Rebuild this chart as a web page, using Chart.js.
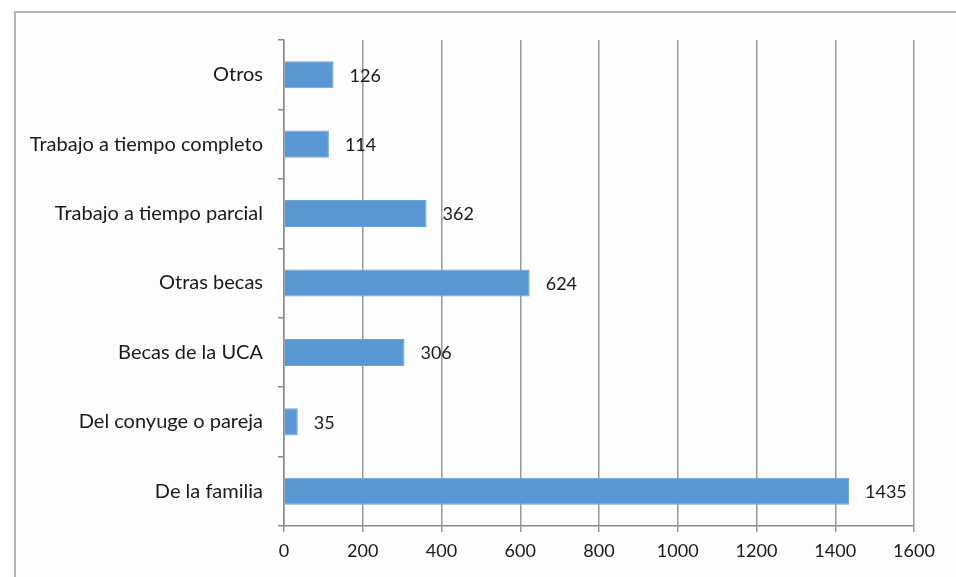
<!DOCTYPE html>
<html>
<head>
<meta charset="utf-8">
<script src="https://cdn.jsdelivr.net/npm/chart.js@4"></script>
<style>
  html, body { margin: 0; padding: 0; background: #fff; overflow: hidden; }
  #frame { position: absolute; left: 14px; top: 11px; width: 960px; height: 580px; border: 2px solid #b4b4b4; background: #fdfdfd; }
  #wrap { position: absolute; left: 0; top: 0; width: 956px; height: 577px; }
</style>
</head>
<body>
<div id="frame"></div>
<div id="wrap"><canvas id="dia"></canvas></div>
<script>
// categories top -> bottom
var categories = ['Otros', 'Trabajo a tiempo completo', 'Trabajo a tiempo parcial', 'Otras becas', 'Becas de la UCA', 'Del conyuge o pareja', 'De la familia'];
var values = [126, 114, 362, 624, 306, 35, 1435];
var xTicks = [0, 200, 400, 600, 800, 1000, 1200, 1400, 1600];

var FONT = 'Lato, "Open Sans", sans-serif';

//--------------- value labels next to bars ---------------//
var valueLabels = {
  id: 'valueLabels',
  afterDatasetsDraw: function(chart) {
    var ctx = chart.ctx;
    var meta = chart.getDatasetMeta(0);
    ctx.save();
    ctx.font = '18px ' + FONT;
    ctx.fillStyle = '#1a1a1a';
    ctx.textAlign = 'left';
    ctx.textBaseline = 'middle';
    meta.data.forEach(function(bar, i) {
      ctx.fillText(String(values[i]), bar.x + 16, bar.y + 1);
    });
    ctx.restore();
  }
};

const dia = new Chart(
  document.getElementById('dia'),
  {
    type: 'bar',
    data: {
      labels: categories,
      datasets: [
        {
          data: values,
          backgroundColor: '#5897d3',
          borderColor: '#6aa6dc',
          borderWidth: 1,
          categoryPercentage: 1,
          barPercentage: 0.39
        }
      ]
    },
    options: {
      indexAxis: 'y',
      responsive: true,
      maintainAspectRatio: false,
      animation: false,
      layout: { padding: { left: 0, right: 42, top: 40, bottom: 0 } },
      plugins: {
        legend: { display: false },
        tooltip: { enabled: false }
      },
      scales: {
        x: {
          min: 0,
          max: 1600,
          afterBuildTicks: function(scale) {
            scale.ticks = xTicks.map(function(v) { return { value: v }; });
          },
          afterFit: function(scale) { scale.height = 51; },
          grid: { color: '#9a9a9a', lineWidth: 1.5, tickLength: 6, drawTicks: true },
          border: { color: '#8a8a8a', width: 1.5 },
          ticks: {
            color: '#1a1a1a', font: { family: FONT, size: 18 }, padding: 8, maxRotation: 0,
            callback: function(v) { return String(v); }
          }
        },
        y: {
          afterFit: function(scale) { scale.width = 284; },
          grid: { drawOnChartArea: false, color: '#8a8a8a', lineWidth: 1.5, tickLength: 6 },
          border: { color: '#8a8a8a', width: 1.5 },
          ticks: { color: '#1a1a1a', font: { family: FONT, size: 20 }, padding: 15 }
        }
      }
    },
    plugins: [valueLabels]
  }
);
</script>
</body>
</html>
